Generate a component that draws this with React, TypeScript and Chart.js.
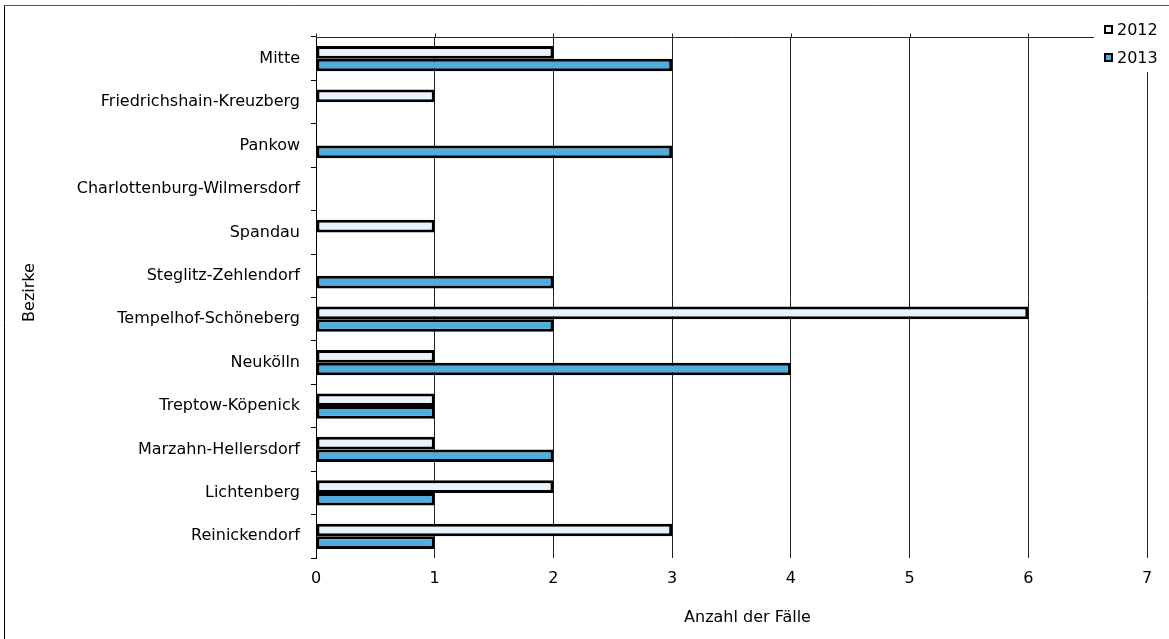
import React, { useEffect, useRef } from 'react';
import { Chart, registerables } from 'chart.js';

Chart.register(...registerables);

const categories = [
  'Mitte',
  'Friedrichshain-Kreuzberg',
  'Pankow',
  'Charlottenburg-Wilmersdorf',
  'Spandau',
  'Steglitz-Zehlendorf',
  'Tempelhof-Schöneberg',
  'Neukölln',
  'Treptow-Köpenick',
  'Marzahn-Hellersdorf',
  'Lichtenberg',
  'Reinickendorf',
];
const values2012 = [2, 1, 0, 0, 1, 0, 6, 1, 1, 1, 2, 3];
const values2013 = [3, 0, 3, 0, 0, 2, 2, 4, 1, 2, 1, 1];
const seriesLabels = ['2012', '2013'];
const seriesColors = ['#E9F1FB', '#4FADDD'];
const xMin = 0;
const xMax = 7;
const xStep = 1;
const xTitle = 'Anzahl der Fälle';
const yTitle = 'Bezirke';

const FONT = '"DejaVu Sans", "Liberation Sans", Arial, sans-serif';
const FS = 16;

const decorPlugin = {
  id: 'decor',
  beforeDraw(chart: any) {
    const { ctx, width, height } = chart;
    ctx.save();
    ctx.fillStyle = '#ffffff';
    ctx.fillRect(0, 0, width, height);
    ctx.restore();
  },
  afterDraw(chart: any) {
    const { ctx, chartArea, width, height } = chart;
    const xs = chart.scales.x;
    ctx.save();
    // outer frame
    ctx.lineWidth = 1;
    ctx.strokeStyle = '#000';
    ctx.beginPath();
    ctx.moveTo(4.5, height);
    ctx.lineTo(4.5, 5.5);
    ctx.stroke();
    ctx.strokeStyle = '#555';
    ctx.beginPath();
    ctx.moveTo(4, 5.5);
    ctx.lineTo(width, 5.5);
    ctx.stroke();
    // top value-axis line with outward ticks
    const y = Math.round(chartArea.top) + 0.5;
    ctx.strokeStyle = '#222';
    ctx.beginPath();
    ctx.moveTo(chartArea.left, y);
    ctx.lineTo(chartArea.right, y);
    xs.ticks.forEach((t: any) => {
      const px = Math.round(xs.getPixelForValue(t.value)) + 0.5;
      ctx.moveTo(px, y);
      ctx.lineTo(px, y - 4);
    });
    ctx.stroke();
    // axis titles
    ctx.font = `${FS}px ${FONT}`;
    ctx.fillStyle = '#000';
    ctx.textAlign = 'center';
    ctx.textBaseline = 'middle';
    ctx.fillText(xTitle, (chartArea.left + chartArea.right) / 2 + 16, 618);
    ctx.save();
    ctx.translate(30, (chartArea.top + chartArea.bottom) / 2 - 5);
    ctx.rotate(-Math.PI / 2);
    ctx.fillText(yTitle, 0, 0);
    ctx.restore();
    // legend box
    ctx.fillStyle = '#fff';
    ctx.fillRect(1094, 6, width - 1094, 66);
    ctx.textBaseline = 'middle';
    ctx.textAlign = 'left';
    seriesLabels.forEach((lab, i) => {
      const cy = 30 + i * 28;
      ctx.fillStyle = seriesColors[i];
      ctx.fillRect(1105, cy - 4, 7, 7);
      ctx.lineWidth = 2;
      ctx.strokeStyle = '#000';
      ctx.strokeRect(1105, cy - 4, 7, 7);
      ctx.fillStyle = '#000';
      ctx.fillText(lab, 1117, cy + 1);
    });
    ctx.restore();
  },
};

export default function App() {
  const ref = useRef<HTMLCanvasElement | null>(null);

  useEffect(() => {
    if (!ref.current) return;
    const bw = (c: any) => (c.raw === 0 ? 0 : 3);
    const chart = new Chart(ref.current, {
      type: 'bar',
      data: {
        labels: categories,
        datasets: [
          {
            label: seriesLabels[0],
            data: values2012,
            backgroundColor: seriesColors[0],
            borderColor: '#000',
            borderWidth: bw,
            borderSkipped: false,
            categoryPercentage: 0.58,
            barPercentage: 1,
          },
          {
            label: seriesLabels[1],
            data: values2013,
            backgroundColor: seriesColors[1],
            borderColor: '#000',
            borderWidth: bw,
            borderSkipped: false,
            categoryPercentage: 0.58,
            barPercentage: 1,
          },
        ],
      },
      options: {
        indexAxis: 'y',
        animation: false,
        responsive: false,
        devicePixelRatio: 1,
        layout: { padding: { top: 37, right: 22, left: 0, bottom: 0 } },
        plugins: {
          legend: { display: false },
          tooltip: { enabled: false },
          title: { display: false },
        },
        scales: {
          x: {
            type: 'linear',
            position: 'bottom',
            min: xMin,
            max: xMax,
            ticks: { stepSize: xStep, padding: 11, color: '#000', font: { family: FONT, size: FS } },
            grid: { color: '#222', lineWidth: 1, drawTicks: false },
            border: { display: false },
            title: { display: false },
            afterFit: (s: any) => {
              s.height = 81;
            },
          },
          y: {
            type: 'category',
            ticks: { padding: 11, color: '#000', autoSkip: false, font: { family: FONT, size: FS } },
            grid: { drawOnChartArea: false, drawTicks: true, tickLength: 5, color: '#000', offset: true },
            border: { display: true, color: '#000', width: 1 },
            title: { display: false },
            afterFit: (s: any) => {
              s.width = 316;
            },
          },
        },
      } as any,
      plugins: [decorPlugin],
    });
    return () => chart.destroy();
  }, []);

  return (
    <div style={{ position: 'absolute', left: 0, top: 0, width: 1169, height: 639 }}>
      <canvas ref={ref} width={1169} height={639} style={{ display: 'block' }} />
    </div>
  );
}
